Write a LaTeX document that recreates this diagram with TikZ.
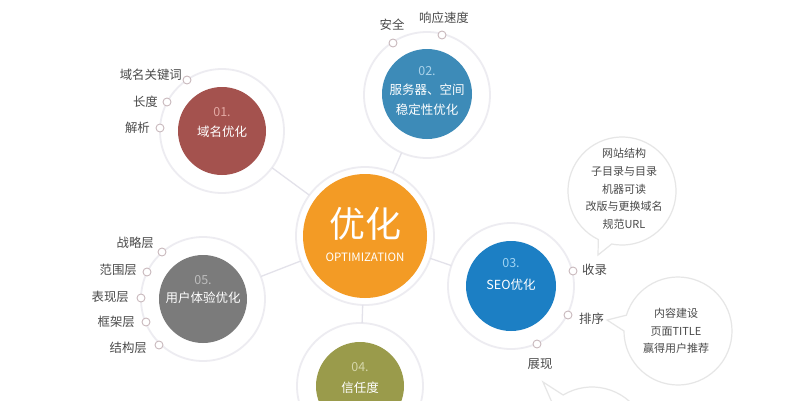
\documentclass[tikz,border=0pt]{standalone}
\usepackage{fontspec}
\setmainfont{Noto Sans CJK SC}
\usetikzlibrary{calc}
\definecolor{ringc}{HTML}{EDECF1}
\definecolor{connc}{HTML}{E3E2EA}
\definecolor{dotc}{HTML}{C9B9BD}
\definecolor{labc}{HTML}{4A4A4A}
\definecolor{bubc}{HTML}{E6E6E6}
\definecolor{orangec}{HTML}{F39B25}
\definecolor{col1}{HTML}{A4524E}
\definecolor{col2}{HTML}{3D8BB8}
\definecolor{col3}{HTML}{1C7FC4}
\definecolor{col4}{HTML}{9A9B4B}
\definecolor{col5}{HTML}{7B7B7B}
\definecolor{num1}{HTML}{E3A9A3}
\definecolor{num2}{HTML}{A9D2EA}
\definecolor{num3}{HTML}{9FD3F3}
\definecolor{num4}{HTML}{D5D6A9}
\definecolor{num5}{HTML}{BDBDBD}
\tikzset{
  ring/.style={circle, draw=ringc, line width=1.8pt, fill=white, inner sep=0pt, outer sep=0pt},
  disk/.style={circle, inner sep=0pt, outer sep=0pt, minimum size=88pt},
  conn/.style={draw=connc, line width=1.3pt},
  dot/.style={circle, draw=dotc, line width=0.9pt, fill=white, minimum size=8pt, inner sep=0pt},
  lab/.style={text=labc, font=\fontsize{12.4}{14}\selectfont, inner sep=0pt},
  num/.style={font=\fontsize{12.5}{14}\selectfont, inner sep=0pt},
  ttl/.style={text=white, font=\fontsize{12.5}{14}\selectfont, inner sep=0pt},
  bubble/.style={draw=bubc, line width=1.2pt, fill=white},
  btxt/.style={text=labc, font=\fontsize{11}{17.7}\selectfont, align=center, inner sep=0pt}
}
\begin{document}
\begin{tikzpicture}[x=1pt,y=-1pt]
\useasboundingbox[fill=white] (0,0) rectangle (807,400);

% rings
\node[ring, minimum size=138pt] (r0) at (365,236) {};
\node[ring, minimum size=124pt] (r1) at (222,131) {};
\node[ring, minimum size=126pt] (r2) at (427,95) {};
\node[ring, minimum size=126pt] (r3) at (511,286) {};
\node[ring, minimum size=126pt] (r4) at (360,386) {};
\node[ring, minimum size=124pt] (r5) at (203,299) {};

% connectors
\draw[conn] (r0) -- (r1);
\draw[conn] (r0) -- (r2);
\draw[conn] (r0) -- (r3);
\draw[conn] (r0) -- (r4);
\draw[conn] (r0) -- (r5);

% disks
\node[disk, fill=orangec, minimum size=124pt] (d0) at (365,236) {};
\node[disk, fill=col1] (d1) at (222,131) {};
\node[disk, fill=col2, minimum size=90pt] (d2) at (427,94) {};
\node[disk, fill=col3, minimum size=90pt] (d3) at (511,286) {};
\node[disk, fill=col4] (d4) at (360,386) {};
\node[disk, fill=col5] (d5) at (203,299) {};

% disk texts
\node[text=white, font=\fontsize{36}{40}\selectfont, inner sep=0pt] (t0a) at (365,224) {优化};
\node[text=white, font=\fontsize{11.5}{14}\selectfont, inner sep=0pt] (t0b) at (365,257) {OPTIMIZATION};
\node[num, text=num1] (n1) at (222,112) {01.};
\node[ttl] (t1) at (222,132) {域名优化};
\node[num, text=num2] (n2) at (427,71) {02.};
\node[ttl] (t2a) at (427,90) {服务器、空间};
\node[ttl] (t2b) at (427,110) {稳定性优化};
\node[num, text=num3] (n3) at (511,263) {03.};
\node[ttl] (t3) at (511,285) {SEO优化};
\node[num, text=num4] (n4) at (360,367) {04.};
\node[ttl] (t4) at (360,388) {信任度};
\node[num, text=num5] (n5) at (203,280) {05.};
\node[ttl] (t5) at (203,298) {用户体验优化};

% dots and labels: 01
\node[dot] (k11) at (187,80) {};
\node[lab, anchor=east] (l11) at (182,75) {域名关键词};
\node[dot] (k12) at (167,102) {};
\node[lab, anchor=east] (l12) at (158,102) {长度};
\node[dot] (k13) at (160,128) {};
\node[lab, anchor=east] (l13) at (150,128) {解析};
% 02
\node[dot] (k21) at (393,43) {};
\node[lab] (l21) at (392,25) {安全};
\node[dot] (k22) at (442,35) {};
\node[lab] (l22) at (444,18) {响应速度};
% 03
\node[dot] (k31) at (573,271) {};
\node[lab, anchor=west] (l31) at (582,270) {收录};
\node[dot] (k32) at (568,315) {};
\node[lab, anchor=west] (l32) at (579,319) {排序};
\node[dot] (k33) at (537,344) {};
\node[lab] (l33) at (540,364) {展现};
% 05
\node[dot] (k51) at (162,252) {};
\node[lab, anchor=east] (l51) at (154,243) {战略层};
\node[dot] (k52) at (147,272) {};
\node[lab, anchor=east] (l52) at (137,270) {范围层};
\node[dot] (k53) at (141,298) {};
\node[lab, anchor=east] (l53) at (129,297) {表现层};
\node[dot] (k54) at (146,322) {};
\node[lab, anchor=east] (l54) at (135,322) {框架层};
\node[dot] (k55) at (159,345) {};
\node[lab, anchor=east] (l55) at (147,348) {结构层};

% bubbles
\coordinate (b1) at (622,191);
\coordinate (b1tip) at (598,255);
\draw[bubble] (b1tip) -- ($(b1)+(116:54)$) arc[start angle=116, end angle=461, radius=54] -- cycle;
\node[btxt] (bt1) at (624,189) {网站结构\\子目录与目录\\机器可读\\改版与更换域名\\规范URL};

\coordinate (b2) at (678,331);
\coordinate (b2tip) at (607,320);
\draw[bubble] (b2tip) -- ($(b2)+(197:54)$) arc[start angle=197, end angle=540, radius=54] -- cycle;
\node[btxt] (bt2) at (676,331) {内容建设\\页面TITLE\\赢得用户推荐};

\coordinate (b3) at (592,443);
\coordinate (b3tip) at (543,382);
\draw[bubble] (b3tip) -- ($(b3)+(239:56)$) arc[start angle=239, end angle=585, radius=56] -- cycle;
\end{tikzpicture}
\end{document}
